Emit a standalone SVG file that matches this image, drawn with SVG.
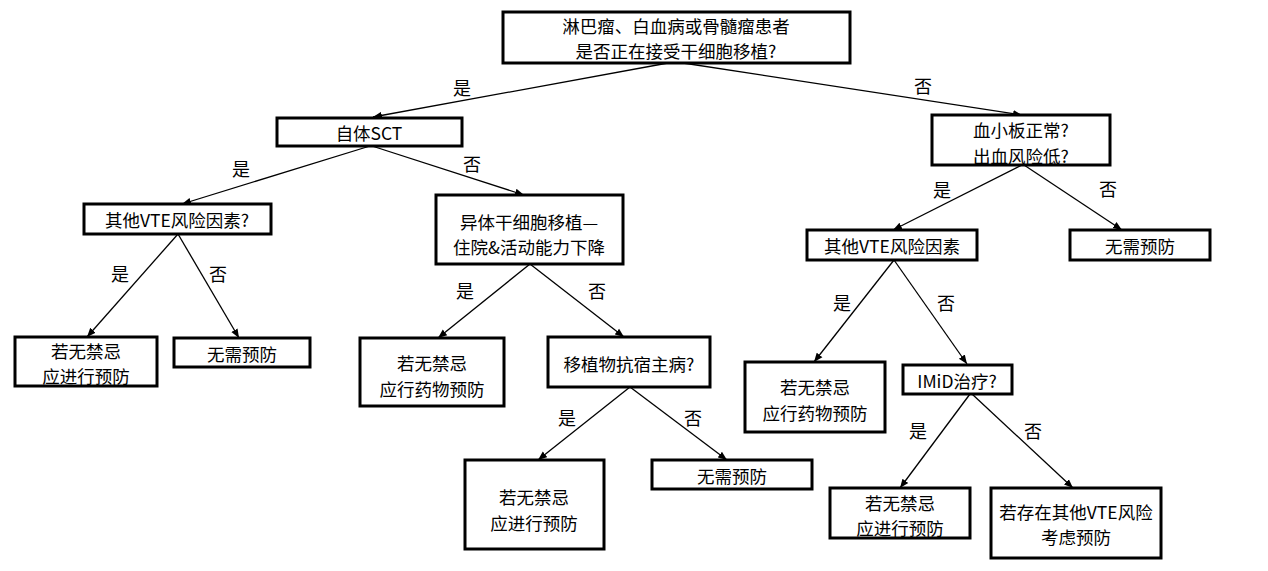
<svg xmlns="http://www.w3.org/2000/svg" width="1268" height="571" viewBox="0 0 1268 571">
<style>
.box{fill:#fff;stroke:#000;stroke-width:3}
.t{font-family:"Noto Sans CJK SC","Liberation Sans",sans-serif;font-size:17.5px;fill:#000;text-anchor:middle;dominant-baseline:central}
.l{font-family:"Noto Sans CJK SC","Liberation Sans",sans-serif;font-size:18px;fill:#000;text-anchor:middle;dominant-baseline:central}
.c{stroke:#000;stroke-width:1.3;fill:none;marker-end:url(#a)}
</style>
<defs>
<marker id="a" viewBox="0 0 10 10" refX="10" refY="5" markerWidth="9" markerHeight="9" markerUnits="userSpaceOnUse" orient="auto">
<path d="M0,1 L10,5 L0,9 z" fill="#000"/>
</marker>
</defs>
<rect width="1268" height="571" fill="#fff"/>
<g id="connectors">
<line class="c" x1="668" y1="63" x2="373" y2="117"/>
<line class="c" x1="683" y1="63" x2="1022" y2="115"/>
<line class="c" x1="370" y1="146" x2="182" y2="204"/>
<line class="c" x1="372" y1="146" x2="524" y2="195"/>
<line class="c" x1="178" y1="234" x2="87" y2="337"/>
<line class="c" x1="178" y1="234" x2="239" y2="338"/>
<line class="c" x1="530" y1="264" x2="438" y2="338"/>
<line class="c" x1="530" y1="264" x2="624" y2="337"/>
<line class="c" x1="630" y1="387" x2="538" y2="460"/>
<line class="c" x1="630" y1="387" x2="727" y2="460"/>
<line class="c" x1="1022" y1="165" x2="893" y2="230"/>
<line class="c" x1="1024" y1="165" x2="1122" y2="230"/>
<line class="c" x1="894" y1="260" x2="814" y2="362"/>
<line class="c" x1="894" y1="260" x2="967" y2="364"/>
<line class="c" x1="970" y1="394" x2="900" y2="488"/>
<line class="c" x1="972" y1="394" x2="1073" y2="488"/>
</g>
<g id="labels">
<text class="l" x="462" y="87">是</text>
<text class="l" x="923" y="85">否</text>
<text class="l" x="241" y="168">是</text>
<text class="l" x="472" y="163">否</text>
<text class="l" x="120" y="273">是</text>
<text class="l" x="218" y="273">否</text>
<text class="l" x="465" y="290">是</text>
<text class="l" x="597" y="290">否</text>
<text class="l" x="567" y="417">是</text>
<text class="l" x="693" y="417">否</text>
<text class="l" x="942" y="189">是</text>
<text class="l" x="1108" y="188">否</text>
<text class="l" x="842" y="302">是</text>
<text class="l" x="946" y="302">否</text>
<text class="l" x="918" y="430">是</text>
<text class="l" x="1033" y="430">否</text>
</g>
<g id="n_root">
<rect class="box" x="503" y="12" width="347" height="51"/>
<text class="t" x="676" y="25">淋巴瘤、白血病或骨髓瘤患者</text>
<text class="t" x="676" y="50.5">是否正在接受干细胞移植?</text>
</g>
<g id="n_auto">
<rect class="box" x="277" y="118" width="185" height="28"/>
<text class="t" x="369" y="132">自体SCT</text>
</g>
<g id="n_plt">
<rect class="box" x="932" y="115" width="178" height="50"/>
<text class="t" x="1021" y="129.5">血小板正常?</text>
<text class="t" x="1021" y="155">出血风险低?</text>
</g>
<g id="n_vte1">
<rect class="box" x="84" y="204" width="187" height="30"/>
<text class="t" x="177" y="219">其他VTE风险因素?</text>
</g>
<g id="n_allo">
<rect class="box" x="436" y="195" width="187" height="69"/>
<text class="t" x="529" y="221">异体干细胞移植—</text>
<text class="t" x="529" y="246.5">住院&amp;活动能力下降</text>
</g>
<g id="n_p1">
<rect class="box" x="15" y="337" width="142" height="49"/>
<text class="t" x="86" y="350">若无禁忌</text>
<text class="t" x="86" y="375.5">应进行预防</text>
</g>
<g id="n_no1">
<rect class="box" x="174" y="338" width="136" height="29"/>
<text class="t" x="242" y="353">无需预防</text>
</g>
<g id="n_d1">
<rect class="box" x="360" y="338" width="144" height="68"/>
<text class="t" x="432" y="362.5">若无禁忌</text>
<text class="t" x="432" y="388">应行药物预防</text>
</g>
<g id="n_gvhd">
<rect class="box" x="548" y="337" width="162" height="50"/>
<text class="t" x="629" y="363">移植物抗宿主病?</text>
</g>
<g id="n_p2">
<rect class="box" x="465" y="460" width="139" height="89"/>
<text class="t" x="534" y="496.5">若无禁忌</text>
<text class="t" x="534" y="522">应进行预防</text>
</g>
<g id="n_no2">
<rect class="box" x="652" y="460" width="160" height="29"/>
<text class="t" x="732" y="475">无需预防</text>
</g>
<g id="n_vte2">
<rect class="box" x="807" y="230" width="170" height="30"/>
<text class="t" x="892" y="245">其他VTE风险因素</text>
</g>
<g id="n_no3">
<rect class="box" x="1070" y="230" width="140" height="30"/>
<text class="t" x="1140" y="245">无需预防</text>
</g>
<g id="n_d2">
<rect class="box" x="745" y="362" width="140" height="70"/>
<text class="t" x="815" y="386.5">若无禁忌</text>
<text class="t" x="815" y="412">应行药物预防</text>
</g>
<g id="n_imid">
<rect class="box" x="903" y="365" width="109" height="29"/>
<text class="t" x="957" y="380">IMiD治疗?</text>
</g>
<g id="n_p3">
<rect class="box" x="830" y="488" width="140" height="50"/>
<text class="t" x="900" y="502">若无禁忌</text>
<text class="t" x="900" y="527.5">应进行预防</text>
</g>
<g id="n_other">
<rect class="box" x="991" y="488" width="170" height="70"/>
<text class="t" x="1076" y="511">若存在其他VTE风险</text>
<text class="t" x="1076" y="536.5">考虑预防</text>
</g>
</svg>
